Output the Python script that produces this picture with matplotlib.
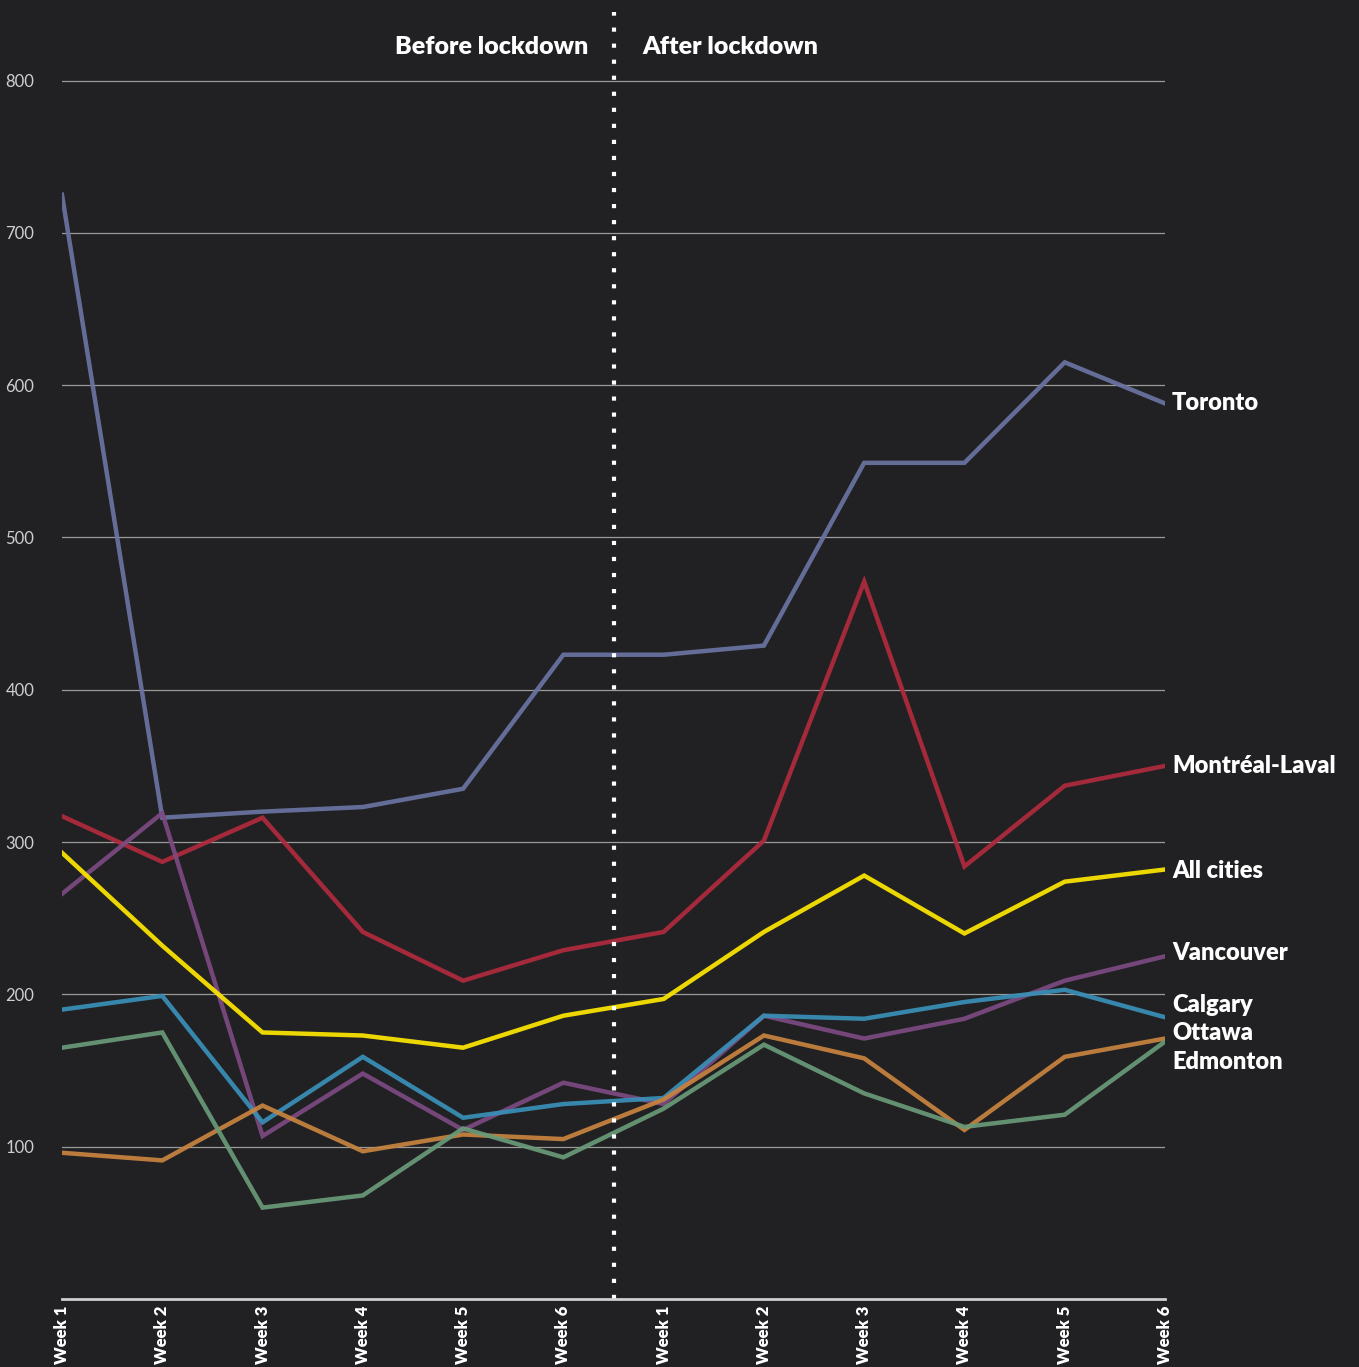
import matplotlib.pyplot as plt

############################# DATOS ################################

weeks = ['Week 1', 'Week 2', 'Week 3', 'Week 4', 'Week 5', 'Week 6',
         'Week 1', 'Week 2', 'Week 3', 'Week 4', 'Week 5', 'Week 6']

toronto   = [725, 316, 320, 323, 335, 423, 423, 429, 549, 549, 615, 588]
montreal  = [317, 287, 316, 241, 209, 229, 241, 301, 471, 284, 337, 350]
vancouver = [266, 319, 107, 148, 111, 142, 128, 186, 171, 184, 209, 225]
calgary   = [190, 199, 116, 159, 119, 128, 132, 186, 184, 195, 203, 185]
ottawa    = [96, 91, 127, 97, 108, 105, 131, 173, 158, 111, 159, 171]
edmonton  = [165, 175, 60, 68, 112, 93, 125, 167, 135, 113, 121, 169]
all_cities = [293, 232, 175, 173, 165, 186, 197, 241, 278, 240, 274, 282]

############################# ESTILO ################################

bg = '#212123'
series = [
    ('Toronto', toronto, '#6b74a3', 588),
    ('Montréal-Laval', montreal, '#b02a3e', 350),
    ('Vancouver', vancouver, '#7c4a82', 227),
    ('Calgary', calgary, '#3a90b8', 193),
    ('Ottawa', ottawa, '#c8843f', 174.5),
    ('Edmonton', edmonton, '#6a9a7a', 155.5),
    ('All cities', all_cities, '#ffe800', 281),
]

plt.rcParams['font.family'] = ['Lato', 'DejaVu Sans']

fig = plt.figure(figsize=(13.59, 13.67), dpi=100, facecolor=bg)
ax = fig.add_axes([62 / 1359, 68 / 1367, 1103 / 1359, 1287 / 1367])
ax.set_facecolor(bg)

x = list(range(len(weeks)))

for name, vals, col, ylab in series:
    ax.plot(x, vals, color=col, lw=3.2, alpha=0.92, solid_joinstyle='miter')
    ax.annotate(name, (11, ylab), xytext=(5, 0), textcoords='offset points',
                color='white', fontsize=17, fontweight='heavy',
                va='center', ha='left', annotation_clip=False)

# línea de confinamiento
ax.axvline(5.5, color='white', lw=3, linestyle=(0, (1, 2.85)), dash_capstyle='butt')
ax.text(5.25, 822, 'Before lockdown', color='white', fontsize=18, fontweight='heavy',
        ha='right', va='center')
ax.text(5.79, 822, 'After lockdown', color='white', fontsize=18, fontweight='heavy',
        ha='left', va='center')

ax.set_xlim(0, 11)
ax.set_ylim(0, 845)
ax.set_yticks([100, 200, 300, 400, 500, 600, 700, 800])
ax.yaxis.grid(True, color='#9a9a9a', lw=0.9)
ax.set_axisbelow(True)
ax.set_xticks(x)
ax.set_xticklabels(weeks, rotation=90, fontsize=12, fontweight='heavy', color='white')
ax.tick_params(axis='y', length=0, pad=20, labelsize=12, labelcolor='#cfcfcf')
ax.tick_params(axis='x', length=0, pad=5)

for s in ['top', 'right', 'left']:
    ax.spines[s].set_visible(False)
ax.spines['bottom'].set_color('#cfcfcf')
ax.spines['bottom'].set_linewidth(2)

plt.savefig('out.png', facecolor=bg)
